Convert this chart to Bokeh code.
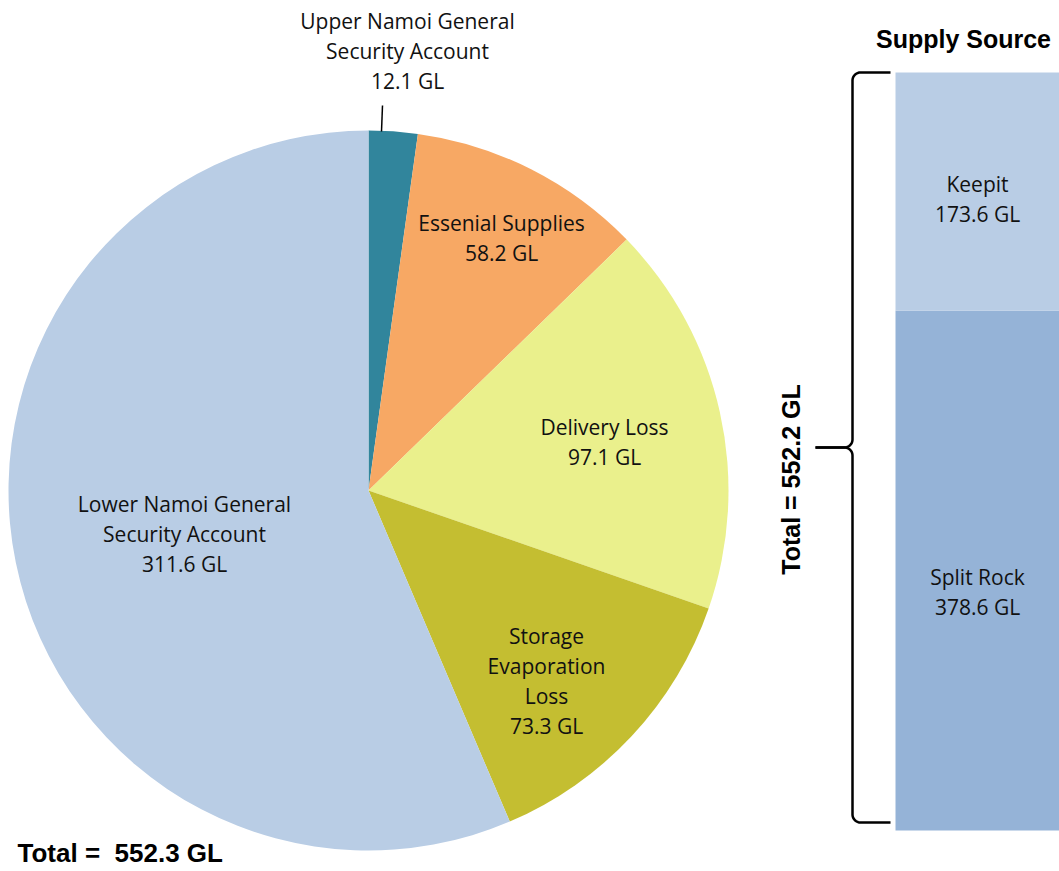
import numpy as np
from bokeh.plotting import figure
from bokeh.models import Range1d
from bokeh.core.properties import value
from bokeh.embed import file_html
from bokeh.resources import INLINE

# ---- data ----
pie_labels = ["Upper Namoi General\nSecurity Account", "Essenial Supplies", "Delivery Loss",
              "Storage\nEvaporation\nLoss", "Lower Namoi General\nSecurity Account"]
pie_values = [12.1, 58.2, 97.1, 73.3, 311.6]
pie_colors = ["#31859C", "#F7A864", "#EAF08C", "#C4BE31", "#B9CDE5"]
pie_total_text = "Total =\u00a0 552.3 GL"

bar_labels = ["Split Rock", "Keepit"]
bar_values = [378.6, 173.6]
bar_colors = ["#95B3D7", "#B9CDE5"]
bar_total_text = "Total = 552.2 GL"
bar_title = "Supply Source"

W, H = 1059, 870
SH = 871  # screen height used for coordinate mapping


def Y(s):
    return SH - s


p = figure(width=W, height=H, output_backend="svg", toolbar_location=None,
           x_range=Range1d(0, W), y_range=Range1d(SH - H, SH),
           min_border=0)
p.axis.visible = False
p.grid.visible = False
p.outline_line_color = None
p.background_fill_color = "white"

LABEL_FONT = value("Open Sans")
BOLD_FONT = value("Liberation Sans")
FS = "21px"

# ---- pie ----
cx, cy, r = 368, Y(490), 360
vals = np.array(pie_values)
frac = vals / vals.sum()
cum = np.concatenate([[0], np.cumsum(frac)])
starts = np.pi / 2 - 2 * np.pi * cum[1:]
ends = np.pi / 2 - 2 * np.pi * cum[:-1]
p.wedge(x=[cx] * len(vals), y=[cy] * len(vals), radius=r,
        start_angle=starts, end_angle=ends, fill_color=pie_colors,
        line_color=None)

# pie labels (text positions in screen coords)
label_pos = [(407, 50), (501, 237), (604, 441), (546, 680), (184, 533)]
for lab, v, (lx, ly) in zip(pie_labels, pie_values, label_pos):
    lines = lab.split("\n") + [f"{v} GL"]
    n = len(lines)
    for i, t in enumerate(lines):
        yy = ly + (i - (n - 1) / 2) * 30
        p.text(x=[lx], y=[Y(yy)], text=[t], text_font=LABEL_FONT,
               text_font_size=FS, text_align="center", text_baseline="middle",
               text_color="#111111")

# leader line for the small slice
p.line(x=[382, 381], y=[Y(105), Y(131)], line_color="black", line_width=1.5)

p.text(x=[17], y=[Y(852)], text=[pie_total_text], text_font=BOLD_FONT,
       text_font_size="26px", text_font_style="bold", text_align="left",
       text_baseline="middle", text_color="black")

# ---- stacked bar on its own scale ----
k = sum(bar_values) / (830 - 72)
frame_top, frame_bot = SH - (SH - 0), H
p.extra_y_ranges = {"bar": Range1d(start=0 - (frame_bot - 830) * k,
                                   end=sum(bar_values) + (72 - frame_top) * k)}
bcum = np.concatenate([[0], np.cumsum(bar_values)])
p.quad(left=[895] * 2, right=[1070] * 2, bottom=bcum[:-1], top=bcum[1:],
       fill_color=bar_colors, line_color=None, y_range_name="bar")
bar_label_y = [591, 198]
for lab, v, ly in zip(bar_labels, bar_values, bar_label_y):
    for i, t in enumerate([lab, f"{v} GL"]):
        yy = ly + (i - 0.5) * 30
        p.text(x=[977], y=[Y(yy)], text=[t], text_font=LABEL_FONT,
               text_font_size=FS, text_align="center", text_baseline="middle",
               text_color="#111111")

p.text(x=[963], y=[Y(38)], text=[bar_title], text_font=BOLD_FONT,
       text_font_size="25px", text_font_style="bold", text_align="center",
       text_baseline="middle", text_color="black")

p.text(x=[790], y=[Y(479)], text=[bar_total_text], text_font=BOLD_FONT,
       text_font_size="25px", text_font_style="bold", text_align="center",
       text_baseline="middle", angle=np.pi / 2, text_color="black")

# ---- brace ----
def arc(cx_, cy_, rr, a0, a1, n=12):
    t = np.linspace(a0, a1, n)
    return list(cx_ + rr * np.cos(t)), list(cy_ + rr * np.sin(t))

bx = 852
top_y, bot_y, mid_y = Y(72), Y(822), Y(447)
rr = 8
xs, ys = [], []
xs += [890]; ys += [top_y]
ax, ay = arc(bx + rr, top_y - rr, rr, np.pi / 2, np.pi)
xs += ax; ys += ay
ax, ay = arc(bx - rr, mid_y + rr, rr, 0, -np.pi / 2)
xs += ax; ys += ay
xs += [815]; ys += [mid_y]
p.line(x=xs, y=ys, line_color="black", line_width=2.5)
xs, ys = [815], [mid_y]
ax, ay = arc(bx - rr, mid_y - rr, rr, np.pi / 2, 0)
xs += ax; ys += ay
ax, ay = arc(bx + rr, bot_y + rr, rr, np.pi, 3 * np.pi / 2)
xs += ax; ys += ay
xs += [890]; ys += [bot_y]
p.line(x=xs, y=ys, line_color="black", line_width=2.5)

open("out.html", "w").write(file_html(p, INLINE))
